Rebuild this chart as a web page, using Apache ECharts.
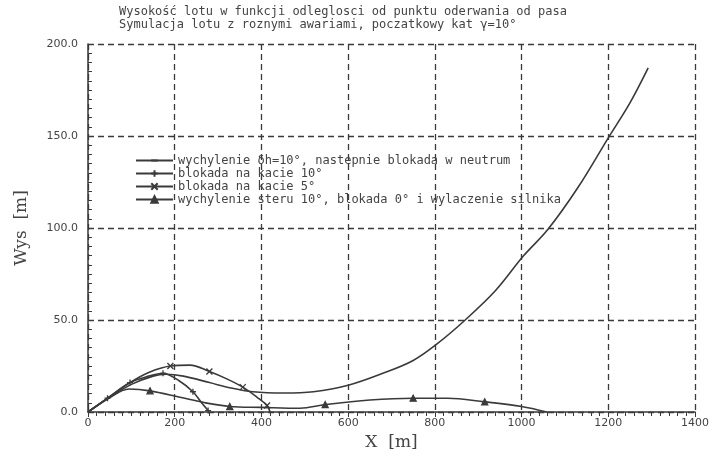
<!DOCTYPE html>
<html><head><meta charset="utf-8">
<script src="https://cdn.jsdelivr.net/npm/echarts@6/dist/echarts.min.js"></script>
<style>html,body{margin:0;padding:0;background:#fff}#c{width:713px;height:461px}</style>
</head><body><div id="c"></div>
<script>
const titleLines = ["Wysokość lotu w funkcji odleglosci od punktu oderwania od pasa",
                    "Symulacja lotu z roznymi awariami, poczatkowy kat γ=10°"];
const seriesNames = ["wychylenie δh=10°, nastepnie blokada w neutrum",
                     "blokada na kacie 10°",
                     "blokada na kacie 5°",
                     "wychylenie steru 10°, blokada 0° i wylaczenie silnika"];
const xTicks = [0,200,400,600,800,1000,1200,1400];
const yTicks = [0,50,100,150,200];

const aX = [0,50,100,150,180,220,280,330,380,450,520,600,680,750,805,870,940,1005,1060,1130,1200,1250,1292];
const aY = [0,8,15,19.5,20.5,19.5,16,13,11,10.3,11,14.5,21,28,37,50,66,85,99,122,149,168,187];
const aMarks = [];

const dX = [0,45,97,140,173,210,242,262,277];
const dY = [0,7.5,16,19.5,21,17,11,5,0.8];
const dMarks = [1,2,4,6,8];

const cX = [0,45,97,140,190,235,280,320,357,390,413,420];
const cY = [0,7.5,16,21.5,25,25.5,22,18,13.5,8,3.5,0];
const cMarks = [4,6,8,10];

const bX = [0,45,95,143,212,270,327,400,489,547,650,750,830,915,1000,1058];
const bY = [0,7,12.5,11.5,8,5,3,2.5,2,4,6.5,7.5,7.5,5.5,3,0];
const bMarks = [3,6,9,11,13];

const LC = '#3a3a3a';
function mk(xs, ys, marks){
  return xs.map((x,i)=> marks.indexOf(i)>=0 ? {value:[x,ys[i]]} : {value:[x,ys[i]], symbol:'none'});
}
const symX = 'path://M0,0L10,10M10,0L0,10';
const symP = 'path://M5,0L5,10M0,5L10,5';
const symH = 'path://M0,0L0,0M0,5L10,5M10,10L10,10';
function ser(name, data, symbol, size, show){
  return {name, type:'line', data, smooth:0.35, symbol, symbolSize:size, showSymbol:show,
    lineStyle:{color:LC,width:1.6}, itemStyle:{color:LC,borderColor:LC,borderWidth:1.3},
    emphasis:{disabled:true}, animation:false, z:3};
}
const chart = echarts.init(document.getElementById('c'));
const axisLabel = {color:'#444', fontFamily:'DejaVu Sans', fontSize:11};
chart.setOption({
  animation:false,
  title:{text:titleLines.join('\n'), left:114, top:0,
    textStyle:{fontFamily:'DejaVu Sans Mono', fontSize:12, fontWeight:'normal', color:'#444', lineHeight:13}},
  legend:{orient:'vertical', left:130, top:149, itemWidth:37, itemHeight:8, itemGap:0,
    textStyle:{fontFamily:'DejaVu Sans Mono', fontSize:12, color:'#444', lineHeight:13},
    data:seriesNames.map(n=>({name:n}))},
  grid:{left:88, right:18, top:44, bottom:49},
  xAxis:{type:'value', min:0, max:1400, interval:200,
    name:'X  [m]', nameLocation:'middle', nameGap:22,
    nameTextStyle:{fontFamily:'DejaVu Serif', fontSize:17, color:'#444'},
    axisLine:{lineStyle:{color:LC,width:1.5}},
    axisTick:{show:true, length:5, inside:false, lineStyle:{color:LC}},
    minorTick:{show:true, splitNumber:10, length:4, lineStyle:{color:LC}},
    axisLabel:Object.assign({margin:6, formatter:v=>xTicks.indexOf(v)>=0?String(v):''},axisLabel),
    splitLine:{show:true, lineStyle:{color:LC, type:[6,4], width:1.3}}},
  yAxis:{type:'value', min:0, max:200, interval:50,
    name:'Wys  [m]', nameLocation:'middle', nameGap:58, nameRotate:90,
    nameTextStyle:{fontFamily:'DejaVu Serif', fontSize:17, color:'#444'},
    axisLine:{show:true, lineStyle:{color:LC,width:1.5}},
    axisTick:{show:true, length:5, inside:true, lineStyle:{color:LC}},
    minorTick:{show:true, splitNumber:10, length:4, lineStyle:{color:LC}},
    axisLabel:Object.assign({margin:10, formatter:v=>yTicks.indexOf(v)>=0?v.toFixed(1):''},axisLabel),
    splitLine:{show:true, lineStyle:{color:LC, type:[6,4], width:1.3}}},
  series:[
    ser(seriesNames[0], mk(aX,aY,aMarks), symH, 6, false),
    ser(seriesNames[1], mk(dX,dY,dMarks), symP, 6, true),
    ser(seriesNames[2], mk(cX,cY,cMarks), symX, 6, true),
    ser(seriesNames[3], mk(bX,bY,bMarks), 'triangle', 6, true)
  ]
});
</script></body></html>
